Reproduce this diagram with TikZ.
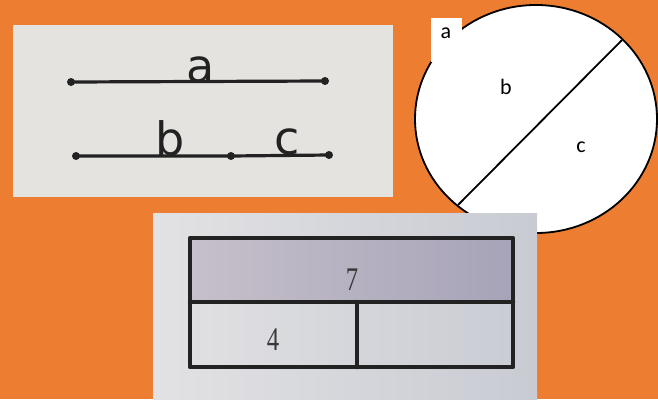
\documentclass[tikz,border=0pt]{standalone}
\usepackage{fontspec}
\setmainfont{Liberation Serif}
\newfontfamily\dejavu{DejaVu Sans}
\newfontfamily\carl{Carlito}
\usetikzlibrary{shapes.geometric}
\definecolor{bgorange}{HTML}{ED7D31}
\definecolor{photoA}{HTML}{E4E3DF}
\definecolor{photoBl}{HTML}{E2E2E4}
\definecolor{photoBr}{HTML}{C9CBD3}
\definecolor{barl}{HTML}{C6C0CA}
\definecolor{barr}{HTML}{A7A3B8}
\definecolor{ink}{HTML}{222222}
\tikzset{
  dot/.style={circle,fill=ink,inner sep=0pt,minimum size=8pt},
  seg/.style={draw=ink,line width=3.2pt},
  biglbl/.style={font=\dejavu\fontsize{46}{46}\selectfont,text=ink,inner sep=0pt},
  circlbl/.style={font=\carl\fontsize{22}{22}\selectfont,text=black,inner sep=0pt},
  barlbl/.style={font=\fontsize{33}{33}\selectfont,text=ink!90,inner sep=0pt},
  barline/.style={draw=ink,line width=4.5pt,line cap=round,line join=round},
}
\begin{document}
\begin{tikzpicture}[x=1pt,y=-1pt]
\useasboundingbox (0,0) rectangle (658,399);
\fill[bgorange] (0,0) rectangle (658,399);
% top-left panel
\fill[photoA] (13,25) rectangle (393,197);
\node[dot] (a1) at (71,82) {};
\node[dot] (a2) at (325,81) {};
\draw[seg] (a1.center) -- (a2.center);
\node[biglbl] (la) at (201,70) {a};
\node[dot] (b1) at (76,156) {};
\node[dot] (bm) at (231,156) {};
\node[dot] (c1) at (329,155) {};
\draw[seg] (b1.center) -- (bm.center) -- (c1.center);
\node[biglbl] (lb) at (170,138) {b};
\node[biglbl] (lc) at (287,142) {c};
% circle
\node[draw=black,fill=white,ellipse,line width=1.8pt,minimum width=242pt,minimum height=228pt,inner sep=0pt] (circ) at (536,119) {};
\coordinate (d1) at (622,40);
\coordinate (d2) at (458,205);
\draw[black,line width=1.8pt] (d1) -- (d2);
\node[fill=white,anchor=north west,minimum width=31pt,minimum height=44pt,inner sep=0pt] (abox) at (431,18) {};
\node[circlbl] (ca) at (446,33) {a};
\node[circlbl] (cb) at (506,87) {b};
\node[circlbl] (cc) at (581,147) {c};
% bottom panel
\shade[left color=photoBl,right color=photoBr] (153,213) rectangle (537,399);
\shade[left color=barl,right color=barr] (190,238) rectangle (513,302);
\draw[barline] (190,238) rectangle (513,367);
\draw[barline] (190,302) -- (513,302);
\draw[barline] (357,302) -- (357,367);
\node[barlbl] (n7) at (352,280) {\scalebox{0.75}[1]{7}};
\node[barlbl] (n4) at (273,340) {\scalebox{0.75}[1]{4}};
\end{tikzpicture}
\end{document}
